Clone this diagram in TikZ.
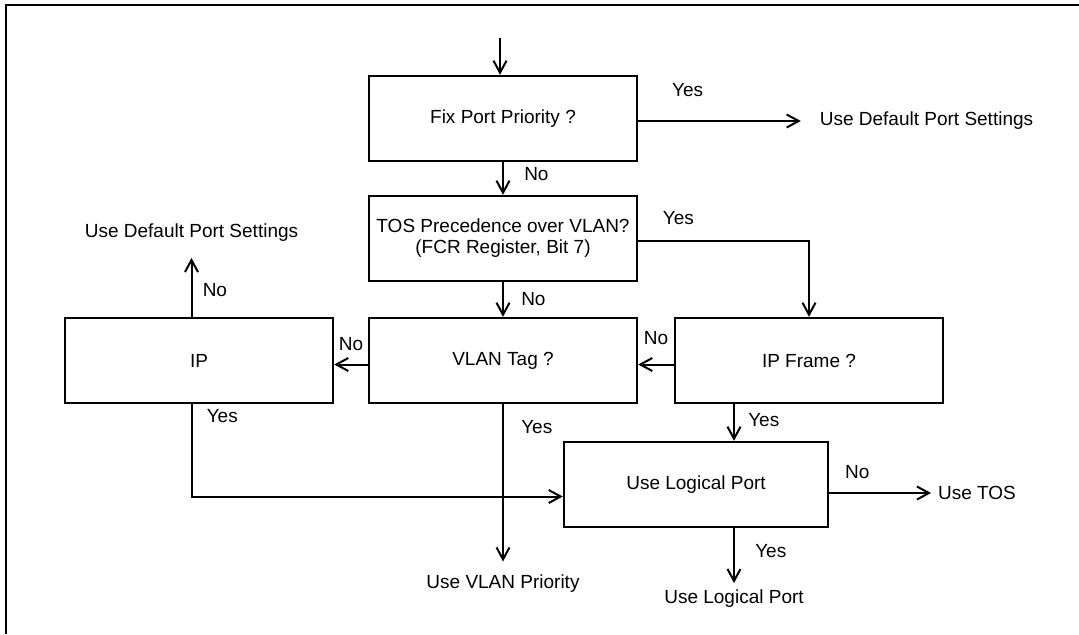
\documentclass[tikz,border=0pt]{standalone}
\usepackage{fontspec}
\setmainfont{Liberation Sans}
\usetikzlibrary{arrows.meta,positioning}

\begin{document}
\begin{tikzpicture}[x=0.5pt,y=-0.5pt,
 every node/.style={font=\fontsize{9.5}{10.5}\selectfont},
 box/.style={draw,line width=1.2pt,minimum width=134pt,minimum height=42.5pt,inner sep=0pt,align=center},
 arw/.style={line width=1pt,-{Straight Barb[length=6pt,width=6.5pt]}},
 frame/.style={line width=1.2pt}]
\useasboundingbox (0,0) rectangle (1079,634);
\draw[frame] (6,634) |- (1079,5);

  \node[box] (fix) at (503,118.5) {Fix Port Priority ?};
  \node[box] (tos) at (503,238.5) {TOS Precedence over VLAN?\\(FCR Register, Bit 7)};
  \node[box] (vlan) at (503,360.5) {VLAN Tag ?};
  \node[box] (ipf) at (809,360.5) {IP Frame ?};
  \node[box] (ip) at (199,360.5) {IP};
  \node[box,minimum width=132pt] (lport) at (696,484.5) {Use Logical Port};

\node (dft) at (926.5,121) {Use Default Port Settings};
\node (dfl) at (191.5,233) {Use Default Port Settings};
\node (uvp) at (503,584) {Use VLAN Priority};
\node (ulp) at (734,599) {Use Logical Port};
\node (usetos) at (977,493) {Use TOS};
\coordinate (in) at (500,38);

\draw[arw] (in) -- (in |- fix.north);
\draw[arw,shorten >=6pt] (fix.east |- dft) -- (dft) node[pos=0.15,above right=8.5pt and 0pt]{Yes};
\draw[arw] (fix.south) -- (tos.north) node[pos=0.35,right=6.8pt]{No};
\draw[arw] ([yshift=-1.25pt]tos.east) -| (ipf.north) node[pos=0.05,above right=4.5pt and 0pt]{Yes};
\draw[arw] (tos.south) -- (vlan.north) node[pos=0.49,right=5.3pt]{No};

\draw[arw] ([yshift=-2pt]ipf.west) -- ([yshift=-2pt]vlan.east) node[midway,above=6pt]{No};
\draw[arw] ([yshift=-2pt]vlan.west) -- ([yshift=-2pt]ip.east) node[midway,above=3pt]{No};

\draw[arw,shorten >=4.5pt] (dfl |- ip.north) -- (dfl.south) node[pos=0.4,right=1.8pt]{No};
\draw[arw] (dfl |- ip.south) |- ([yshift=-6pt]lport.west) node[pos=0.062,right=3.8pt]{Yes};
\draw[arw,shorten >=3.3pt] (vlan.south) -- (uvp.north) node[pos=0.14,right=5.3pt]{Yes};
\draw[arw] (ulp |- ipf.south) -- (ulp |- lport.north) node[pos=0.42,right=3.3pt]{Yes};

\draw[arw] (lport.east |- usetos) -- (usetos) node[pos=0.08,above right=3.5pt and 0pt]{No};
\draw[arw] (ulp |- lport.south) -- (ulp) node[pos=0.41,right=6.8pt]{Yes};
\end{tikzpicture}
\end{document}
